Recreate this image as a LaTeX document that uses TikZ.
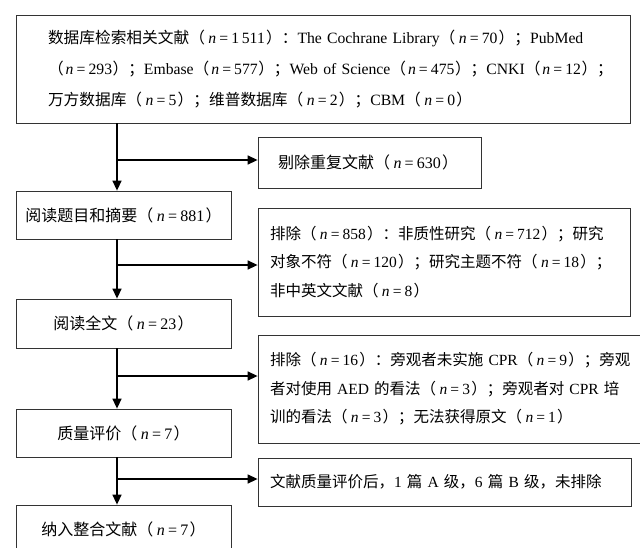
\documentclass[tikz,border=0pt]{standalone}
\usepackage{fontspec}
\setmainfont{Liberation Serif}
\newfontfamily\cjk{Noto Sans CJK SC}
\usetikzlibrary{arrows.meta}
\newcommand\C[1]{{\cjk #1}}
\newcommand\Nv[1]{\hspace{0.22em minus 0.1em}\textit{n}\hspace{0.2em}=\hspace{0.2em}#1\hspace{0.08em minus 0.05em}}
\newcommand\Ln[1]{\mbox{#1}}
\newcommand\Jl[2]{\makebox[#1][s]{#2}}
\begin{document}
\begin{tikzpicture}[x=1pt,y=-1pt,
  box/.style={draw=black!80, line width=0.8pt, rectangle, inner ysep=0pt, align=center,
    font=\fontsize{16}{31}\selectfont},
  lbox/.style={box, align=left},
  tbox/.style={lbox, font=\fontsize{15.7}{31}\selectfont},
  rbox/.style={lbox, font=\fontsize{15.5}{28.5}\selectfont},
  flow/.style={line width=1.4pt, draw=black},
  arr/.style={flow, -{Triangle[length=10pt,width=9pt]}}]
\useasboundingbox (0,0) rectangle (640,547);
\node[tbox, inner xsep=32pt, text width=550pt, minimum height=108pt] (top) at (323,69)
 {\Ln{\C{数据库检索相关文献（}\Nv{1\,511}\C{）：}The Cochrane Library\C{（}\Nv{70}\C{）；}PubMed}\\
  \Jl{558pt}{\C{（}\Nv{293}\C{）；}Embase\C{（}\Nv{577}\C{）；}Web of Science\C{（}\Nv{475}\C{）；}CNKI\C{（}\Nv{12}\C{）；}}\\
  \Ln{\C{万方数据库（}\Nv{5}\C{）；维普数据库（}\Nv{2}\C{）；}CBM\C{（}\Nv{0}\C{）}}};
\node[lbox, inner xsep=20pt, text width=183pt, minimum height=51pt] (dup) at (369.5,162.5)
 {\Ln{\C{剔除重复文献（}\Nv{630}\C{）}}};
\node[box, minimum width=215pt, minimum height=48pt] (b2) at (123.5,215)
 {\C{阅读题目和摘要（}\Nv{881}\C{）}};
\node[rbox, inner xsep=12pt, text width=348pt, minimum height=108pt] (r2) at (444,262)
 {\Ln{\C{排除（}\Nv{858}\C{）：非质性研究（}\Nv{712}\C{）；研究}}\\
  \Ln{\C{对象不符（}\Nv{120}\C{）；研究主题不符（}\Nv{18}\C{）；}}\\
  \Ln{\C{非中英文文献（}\Nv{8}\C{）}}};
\node[box, minimum width=215pt, minimum height=49pt] (b3) at (123.5,323.5)
 {\C{阅读全文（}\Nv{23}\C{）}};
\node[rbox, inner xsep=12pt, text width=376pt, minimum height=108pt] (r3) at (458,389)
 {\Ln{\C{排除（}\Nv{16}\C{）：旁观者未实施} CPR\C{（}\Nv{9}\C{）；旁观}}\\
  \Ln{\C{者对使用} AED \C{的看法（}\Nv{3}\C{）；旁观者对} CPR \C{培}}\\
  \Ln{\C{训的看法（}\Nv{3}\C{）；无法获得原文（}\Nv{1}\C{）}}};
\node[box, minimum width=215pt, minimum height=48pt] (b4) at (123.5,433)
 {\C{质量评价（}\Nv{7}\C{）}};
\node[rbox, inner xsep=12pt, text width=349pt, minimum height=48pt] (r4) at (444.5,482)
 {\Ln{\C{文献质量评价后，}1 \C{篇} A \C{级，}6 \C{篇} B \C{级，未排除}}};
\node[box, minimum width=215pt, minimum height=48pt] (b5) at (123.5,529)
 {\C{纳入整合文献（}\Nv{7}\C{）}};
\coordinate (sp) at (117,0);
\coordinate (j1) at (117,160);
\coordinate (j2) at (117,265);
\coordinate (j3) at (117,376);
\coordinate (j4) at (117,479);
\draw[arr] (top.south -| sp) -- (b2.north -| sp);
\draw[arr] (j1) -- (j1 -| dup.west);
\draw[arr] (b2.south -| sp) -- (b3.north -| sp);
\draw[arr] (j2) -- (j2 -| r2.west);
\draw[arr] (b3.south -| sp) -- (b4.north -| sp);
\draw[arr] (j3) -- (j3 -| r3.west);
\draw[arr] (b4.south -| sp) -- (b5.north -| sp);
\draw[arr] (j4) -- (j4 -| r4.west);
\end{tikzpicture}
\end{document}
